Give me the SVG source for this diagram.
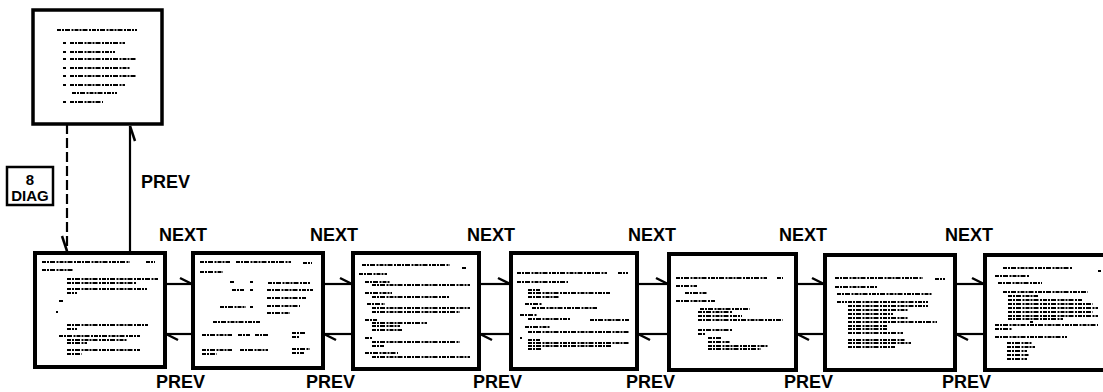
<svg xmlns="http://www.w3.org/2000/svg" width="1103" height="392" viewBox="0 0 1103 392">
<style>
.bg{fill:#fff}
.scr{fill:#fff;stroke:#000;stroke-width:4}
.t{fill:none;stroke:#000;stroke-width:1.9;stroke-dasharray:4 1 2 1 5 1.5 2 1}
.c{fill:none;stroke:#000;stroke-width:2.2}
.d{stroke-dasharray:10 4}
.lbl{font-family:"Liberation Sans",Arial,sans-serif;font-size:18px;font-weight:bold;fill:#000}
.dg{font-family:"Liberation Sans",Arial,sans-serif;font-size:15px;font-weight:bold;fill:#000;text-anchor:middle}
</style>
<defs>
<marker id="m1" viewBox="-16 -10 20 20" refX="0" refY="0" markerWidth="20" markerHeight="20" orient="auto" markerUnits="userSpaceOnUse" overflow="visible"><path d="M-12,-6 L0,0" fill="none" stroke="#000" stroke-width="2.5"/></marker>
<marker id="m2" viewBox="-16 -10 20 20" refX="0" refY="0" markerWidth="20" markerHeight="20" orient="auto" markerUnits="userSpaceOnUse" overflow="visible"><path d="M-15,5 L0,0" fill="none" stroke="#000" stroke-width="2.5"/></marker>
</defs>
<rect class="bg" x="0" y="0" width="1103" height="392"/>

<g id="connectors">
<path class="c d" d="M67 124 V251" marker-end="url(#m2)"/>
<path class="c" d="M130 252 V126" marker-end="url(#m2)"/>
<text class="lbl" x="141" y="188">PREV</text>
<path class="c" d="M165 284 H192" marker-end="url(#m1)"/>
<path class="c" d="M193 334 H166" marker-end="url(#m1)"/>
<path class="c" d="M323 284 H352" marker-end="url(#m1)"/>
<path class="c" d="M353 334 H324" marker-end="url(#m1)"/>
<path class="c" d="M479 284 H510" marker-end="url(#m1)"/>
<path class="c" d="M511 334 H480" marker-end="url(#m1)"/>
<path class="c" d="M637 284 H668" marker-end="url(#m1)"/>
<path class="c" d="M669 334 H638" marker-end="url(#m1)"/>
<path class="c" d="M796 284 H824" marker-end="url(#m1)"/>
<path class="c" d="M825 334 H797" marker-end="url(#m1)"/>
<path class="c" d="M955 284 H984" marker-end="url(#m1)"/>
<path class="c" d="M985 334 H956" marker-end="url(#m1)"/>
<text class="lbl" x="159" y="241">NEXT</text>
<text class="lbl" x="310" y="241">NEXT</text>
<text class="lbl" x="467" y="241">NEXT</text>
<text class="lbl" x="628" y="241">NEXT</text>
<text class="lbl" x="779" y="241">NEXT</text>
<text class="lbl" x="945" y="241">NEXT</text>
<text class="lbl" x="156" y="388">PREV</text>
<text class="lbl" x="306" y="388">PREV</text>
<text class="lbl" x="473" y="388">PREV</text>
<text class="lbl" x="626" y="388">PREV</text>
<text class="lbl" x="784" y="388">PREV</text>
<text class="lbl" x="942" y="388">PREV</text>
</g>

<g id="diag">
<rect x="7" y="167" width="46" height="38" fill="#fff" stroke="#000" stroke-width="2.5"/>
<text class="dg" x="30" y="185">8</text>
<text class="dg" x="30" y="201">DIAG</text>
</g>

<g id="menu">
<rect class="scr" x="33" y="10" width="129" height="114" style="stroke-width:3.5"/>
<path class="t" d="M57 30h80 M63 43h3 M70 43h55 M63 52h3 M70 52h45 M63 59h3 M70 59h67 M63 68h3 M70 68h60 M63 76h3 M70 76h67 M63 85h3 M70 85h55 M72 93h45 M63 102h3 M70 102h33"/>
</g>

<g id="screen1">
<rect class="scr" x="35" y="253" width="130" height="114"/>
<path class="t" d="M42 262h88 M146 262h9 M42 270h31 M67 279h91 M67 283h70 M67 289h80 M67 293h10 M59 301h4 M56 312h2 M67 325h81 M67 329h10 M59 336h81 M67 340h60 M67 343h20 M67 350h73 M67 354h15"/>
</g>

<g id="screen2">
<rect class="scr" x="193" y="253" width="130" height="115"/>
<path class="t" d="M200 262h30 M236 262h55 M303 263h9 M200 272h23 M230 282h5 M250 282h3 M268 283h42 M232 290h12 M250 290h3 M267 290h46 M267 298h40 M220 307h26 M250 307h3 M267 306h33 M267 313h23 M213 322h47 M202 335h30 M238 335h12 M255 335h13 M292 333h13 M292 337h8 M202 350h30 M240 350h28 M202 354h15 M292 349h18 M292 353h12"/>
</g>

<g id="screen3">
<rect class="scr" x="353" y="253" width="126" height="116"/>
<path class="t" d="M362 265h88 M462 268h5 M359 274h28 M365 282h25 M372 285h98 M365 293h27 M372 297h78 M367 304h18 M372 308h98 M372 312h88 M365 320h12 M372 323h55 M372 326h28 M372 330h30 M365 338h8 M372 342h88 M372 346h12 M365 353h33 M372 357h98"/>
</g>

<g id="screen4">
<rect class="scr" x="511" y="253" width="126" height="116"/>
<path class="t" d="M517 273h90 M618 273h10 M517 282h51 M528 290h12 M528 293h82 M528 297h32 M525 304h17 M532 308h65 M520 315h17 M528 319h43 M590 320h40 M525 327h25 M528 332h102 M520 338h2 M528 340h12 M528 343h102 M528 346h84 M528 349h14"/>
</g>

<g id="screen5">
<rect class="scr" x="669" y="254" width="127" height="116"/>
<path class="t" d="M676 278h91 M777 278h6 M676 286h21 M685 293h22 M676 301h39 M700 309h50 M698 312h34 M698 316h44 M698 320h85 M698 330h34 M698 334h8 M708 338h14 M708 342h22 M708 346h60 M708 349h53"/>
</g>

<g id="screen6">
<rect class="scr" x="825" y="255" width="130" height="115"/>
<path class="t" d="M835 278h88 M935 279h10 M835 287h43 M837 294h95 M837 302h10 M848 302h80 M848 306h80 M848 310h60 M848 314h45 M848 318h60 M848 322h89 M848 326h40 M848 329h40 M848 333h55 M848 340h57 M848 343h63 M848 347h47"/>
</g>

<g id="screen7">
<rect class="scr" x="985" y="255" width="130" height="115"/>
<path class="t" d="M1003 268h69 M1098 271h3 M995 276h35 M998 283h44 M1003 292h85 M1008 296h30 M1008 300h75 M1008 304h85 M1008 308h90 M1008 312h85 M1008 316h90 M1008 319h55 M1030 322h3 M995 325h103 M995 329h17 M995 337h72 M1007 343h25 M1007 347h28 M1007 351h20 M1007 355h22 M1007 359h20"/>
</g>
</svg>
